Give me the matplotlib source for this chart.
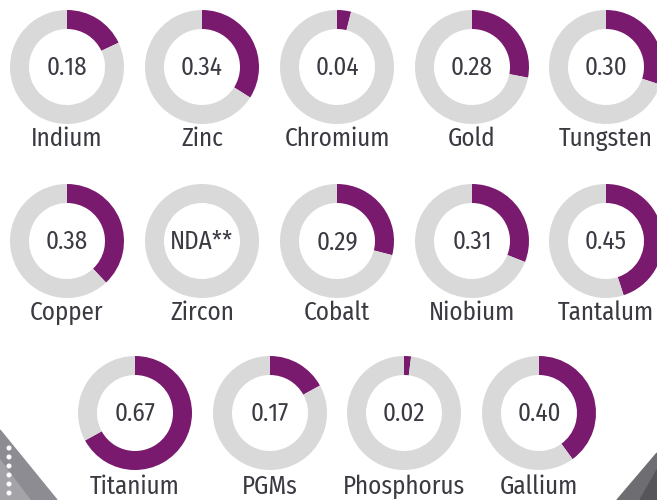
import matplotlib.pyplot as plt
from matplotlib.patches import Polygon, Circle

names_top = ["Indium", "Zinc", "Chromium", "Gold", "Tungsten"]
values_top = [0.18, 0.34, 0.04, 0.28, 0.30]
names_mid = ["Copper", "Zircon", "Cobalt", "Niobium", "Tantalum"]
values_mid = [0.38, None, 0.29, 0.31, 0.45]
names_bot = ["Titanium", "PGMs", "Phosphorus", "Gallium"]
values_bot = [0.67, 0.17, 0.02, 0.40]

purple = "#7a1a6e"
ring_gray = "#d9d9d9"
text_col = "#3a3a42"

plt.rcParams["font.family"] = ["Fira Sans Condensed", "DejaVu Sans"]

W, H = 657, 500
fig = plt.figure(figsize=(6.57, 5.0), dpi=100)
ax = fig.add_axes([0, 0, 1, 1])

# gray backdrop showing in the two lower corners
ax.add_patch(Polygon([(0, 70), (57, 0), (0, 0)], closed=True, color="#8c8c92", zorder=0))
ax.add_patch(Polygon([(0, 40), (30, 0), (0, 0)], closed=True, color="#a3a3a8", zorder=0))
ax.add_patch(Polygon([(657, 47), (617, 0), (657, 0)], closed=True, color="#6e6e72", zorder=0))
ax.add_patch(Polygon([(657, 30), (640, 0), (657, 0)], closed=True, color="#55555a", zorder=0))
for yy in range(52, -1, -9):
    ax.add_patch(Circle((9, yy), 1.8, color="white", zorder=1))

R = 57
WIDTH = 19


def donut(cx, cy, val, name, label_gap=72):
    if val is None:
        ax.pie([1], colors=[ring_gray], center=(cx, cy), radius=R,
               wedgeprops=dict(width=WIDTH, linewidth=0), frame=True)
        txt = "NDA**"
    else:
        ax.pie([val, 1 - val], colors=[purple, ring_gray], center=(cx, cy), radius=R,
               startangle=90, counterclock=False,
               wedgeprops=dict(width=WIDTH, linewidth=0), frame=True)
        txt = f"{val:.2f}"
    ax.text(cx, cy - 1, txt, ha="center", va="center", fontsize=18,
            fontweight="normal", color=text_col)
    ax.text(cx, cy - label_gap, name, ha="center", va="center", fontsize=18,
            fontweight="normal", color=text_col)


xs_full = [67, 202, 337, 472, 606]
for x, v, n in zip(xs_full, values_top, names_top):
    donut(x, H - 67, v, n)
for x, v, n in zip(xs_full, values_mid, names_mid):
    donut(x, H - 241, v, n)
xs_bot = [135, 270, 404, 539]
for x, v, n in zip(xs_bot, values_bot, names_bot):
    donut(x, H - 413, v, n, label_gap=74)

ax.set_xlim(0, W)
ax.set_ylim(0, H)
ax.set_aspect("auto")
ax.axis("off")
fig.savefig("out.png", dpi=100, facecolor="white")
